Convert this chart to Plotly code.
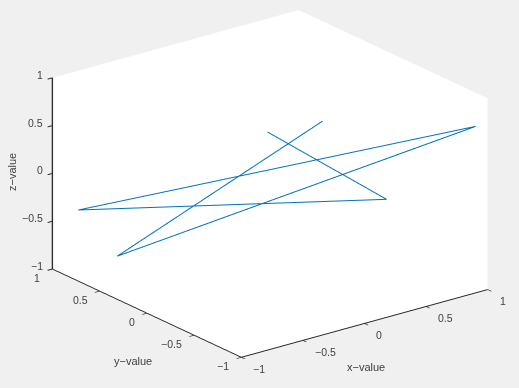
import math
import plotly.graph_objects as go

x_values = [0.504, -0.856, 0.98, -0.866, 0.563, -0.02]
y_values = [0.1, 0.5, -0.9, 0.9, -0.5, 0.0]
z_values = [0.43, -0.685, 0.668, -0.384, -0.132, 0.547]
tick_vals = [-1, -0.5, 0, 0.5, 1]
tick_text = ["\u22121", "\u22120.5", "0", "0.5", "1"]

TXT = "#404040"
BG = "#f0f0f0"
az = math.radians(37.5)
el = math.radians(21)
dist = 2.0
scale = 1.6
cx, cy, cz = -0.043, 0.033, -0.057

def axis():
    return dict(
        range=[-1, 1], autorange=False, tickvals=tick_vals, ticktext=tick_text,
        showticklabels=False, title=dict(text=""),
        showgrid=False, zeroline=False, showline=True, linecolor="#262626", linewidth=2,
        ticks="outside", ticklen=6, tickcolor="#262626", tickwidth=2,
        showbackground=True, backgroundcolor="white", showspikes=False,
    )

def label(text, x, y, angle=0):
    return dict(text=text, x=x / 519, y=1 - y / 388, xref="paper", yref="paper", showarrow=False,
                xanchor="center", yanchor="middle", textangle=angle,
                font=dict(family="Liberation Sans", size=11, color=TXT))

def tick_note(text, x, y, z, anchor, dx, dy):
    return dict(text=text, x=x, y=y, z=z, showarrow=False, xanchor=anchor, yanchor="middle",
                xshift=dx, yshift=dy, font=dict(family="Liberation Sans", size=10.5, color=TXT))

tick_notes = []
for v, t in zip(tick_vals, tick_text):
    tick_notes.append(tick_note(t, v, -1, -1, "left", 10, -11.5))
    tick_notes.append(tick_note(t, -1, v, -1, "right", -10, -9))
    tick_notes.append(tick_note(t, -1, 1, v, "right", -7, 3))

fig = go.Figure(go.Scatter3d(
    x=x_values, y=y_values, z=z_values, mode="lines",
    line=dict(color="#0072BD", width=2), hoverinfo="skip", showlegend=False,
))
fig.add_trace(go.Scatter3d(
    x=[-1, -1], y=[1, 1], z=[-1, 1], mode="lines",
    line=dict(color="#6e6e6e", width=3), hoverinfo="skip", showlegend=False,
))
fig.update_layout(
    width=519, height=388, margin=dict(l=0, r=0, t=0, b=0),
    paper_bgcolor=BG, showlegend=False,
    annotations=[label("x\u2212value", 366, 367), label("y\u2212value", 133, 361), label("z\u2212value", 12, 172, -90)],
    scene=dict(
        domain=dict(x=[0, 1], y=[0, 1]),
        xaxis=axis(), yaxis=axis(), zaxis=axis(),
        aspectmode="manual", aspectratio=dict(x=scale, y=scale, z=0.66 * scale),
        bgcolor=BG, annotations=tick_notes,
        camera=dict(
            projection=dict(type="orthographic"),
            eye=dict(x=cx - dist * math.sin(az) * math.cos(el), y=cy - dist * math.cos(az) * math.cos(el), z=cz + dist * math.sin(el)),
            up=dict(x=0, y=0, z=1), center=dict(x=cx, y=cy, z=cz),
        ),
    ),
)
fig.write_html("out.html", config=dict(displayModeBar=False),
               post_script="document.body.style.margin='0';document.documentElement.style.background='#f0f0f0';")
